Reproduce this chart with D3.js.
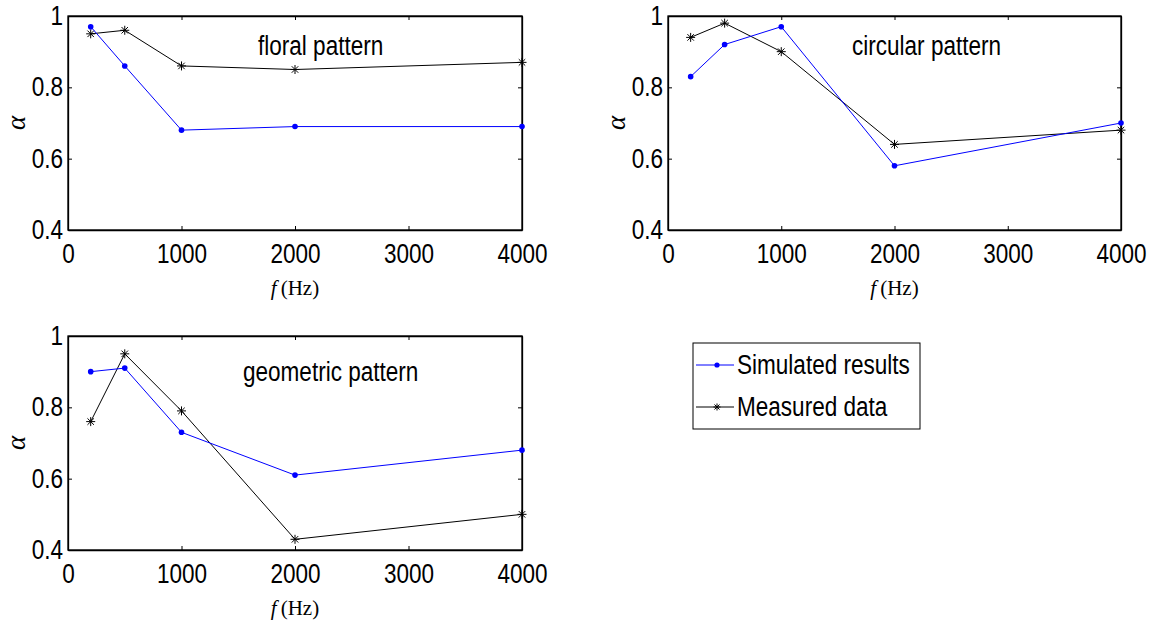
<!DOCTYPE html>
<html>
<head>
<meta charset="utf-8">
<script src="https://cdn.jsdelivr.net/npm/d3@7"></script>
<style>
  body { margin: 0; background: #fff; }
  svg text { fill: #000; }
  .tick text, .title, .legend text { font-family: "Liberation Sans", Arial, sans-serif; font-size: 27px; }
  .xlab, .ylab { font-family: "Liberation Serif", "Times New Roman", serif; }
</style>
</head>
<body>
<div class="canvas"></div>
<script>
// data
const freqs = [200, 500, 1000, 2000, 4000];

const floralSim = [0.97, 0.86, 0.68, 0.69, 0.69];
const floralMeas = [0.95, 0.96, 0.86, 0.85, 0.87];

const circularSim = [0.83, 0.92, 0.97, 0.58, 0.70];
const circularMeas = [0.94, 0.98, 0.90, 0.64, 0.68];

const geometricSim = [0.90, 0.91, 0.73, 0.61, 0.68];
const geometricMeas = [0.76, 0.95, 0.79, 0.43, 0.50];

const xTicks = [0, 1000, 2000, 3000, 4000];
const yTicks = [0.4, 0.6, 0.8, 1];

const seriesNames = ["Simulated results", "Measured data"];

// horizontal squeeze so the sans text looks like the narrow font of the original
const squeeze = 0.835;

const svg = d3
  .select(".canvas")
  .append("svg")
  .attr("width", 1151)
  .attr("height", 621);

const panels = [
  { title: "floral pattern", sim: floralSim, meas: floralMeas, left: 68, top: 16, w: 454, titleX: 190, titleY: 39 },
  { title: "circular pattern", sim: circularSim, meas: circularMeas, left: 668, top: 16, w: 453, titleX: 184, titleY: 39 },
  { title: "geometric pattern", sim: geometricSim, meas: geometricMeas, left: 68, top: 336, w: 454, titleX: 175, titleY: 45 },
];
const plotH = 214;

// asterisk marker path (MATLAB '*')
const star = (r) => {
  const d = r * 0.72;
  return `M${-r},0L${r},0M0,${-r}L0,${r}M${-d},${-d}L${d},${d}M${-d},${d}L${d},${-d}`;
};

panels.forEach((p) => {
  const g = svg.append("g").attr("transform", `translate(${p.left},${p.top})`);

  const x = d3.scaleLinear().domain([0, 4000]).range([0, p.w]);
  const y = d3.scaleLinear().domain([0.4, 1]).range([plotH, 0]);

  // axes with inward ticks on all four sides
  const fmt = (d) => String(d);
  const xAxisGroup = g.append("g")
    .attr("transform", `translate(0,${plotH})`)
    .call(d3.axisBottom(x).tickValues(xTicks).tickSizeInner(-4).tickSizeOuter(0).tickPadding(14).tickFormat(fmt));
  const yAxisGroup = g.append("g")
    .call(d3.axisLeft(y).tickValues(yTicks).tickSizeInner(-4).tickSizeOuter(0).tickPadding(6).tickFormat(fmt));
  g.append("g")
    .call(d3.axisTop(x).tickValues(xTicks).tickSizeInner(-4).tickSizeOuter(0).tickFormat(""));
  g.append("g")
    .attr("transform", `translate(${p.w},0)`)
    .call(d3.axisRight(y).tickValues(yTicks).tickSizeInner(-4).tickSizeOuter(0).tickFormat(""));

  g.selectAll(".domain").attr("stroke", "#000").attr("stroke-width", 1.3);
  g.selectAll(".tick line").attr("stroke", "#000");
  xAxisGroup.selectAll("text").attr("fill", "#000").attr("transform", `scale(${squeeze},1)`);
  yAxisGroup.selectAll("text").attr("fill", "#000").attr("transform", `scale(${squeeze},1)`);

  g.append("rect")
    .attr("width", p.w)
    .attr("height", plotH)
    .attr("fill", "none")
    .attr("stroke", "#000")
    .attr("stroke-width", 1.3);

  const line = d3
    .line()
    .x((d, i) => x(freqs[i]))
    .y((d) => y(d));

  // measured (black, asterisks)
  g.append("path")
    .datum(p.meas)
    .attr("fill", "none")
    .attr("stroke", "#000")
    .attr("stroke-width", 1)
    .attr("d", line);
  g.selectAll(".meas")
    .data(p.meas)
    .enter()
    .append("path")
    .attr("class", "meas")
    .attr("transform", (d, i) => `translate(${x(freqs[i])},${y(d)})`)
    .attr("d", star(4.5))
    .attr("stroke", "#000")
    .attr("stroke-width", 1)
    .attr("fill", "none");

  // simulated (blue, dots)
  g.append("path")
    .datum(p.sim)
    .attr("fill", "none")
    .attr("stroke", "#0000ff")
    .attr("stroke-width", 1)
    .attr("d", line);
  g.selectAll(".sim")
    .data(p.sim)
    .enter()
    .append("circle")
    .attr("class", "sim")
    .attr("cx", (d, i) => x(freqs[i]))
    .attr("cy", (d) => y(d))
    .attr("r", 2.8)
    .attr("fill", "#0000ff");

  g.append("text")
    .attr("class", "title")
    .attr("transform", `translate(${p.titleX},${p.titleY}) scale(${squeeze},1)`)
    .text(p.title);

  // x label: f (Hz)
  const xl = g.append("text")
    .attr("class", "xlab")
    .attr("x", p.w / 2)
    .attr("y", plotH + 65)
    .attr("text-anchor", "middle")
    .attr("font-size", 21);
  xl.append("tspan").attr("font-style", "italic").text("f");
  xl.append("tspan").attr("dx", 4).text("(Hz)");

  // y label: alpha
  g.append("text")
    .attr("class", "ylab")
    .attr("transform", `translate(-43.5,${plotH / 2}) rotate(-90)`)
    .attr("text-anchor", "middle")
    .attr("font-size", 27)
    .attr("font-style", "italic")
    .text("α");
});

// legend
const legend = svg.append("g").attr("class", "legend").attr("transform", "translate(693,343)");
legend.append("rect")
  .attr("width", 227)
  .attr("height", 86)
  .attr("fill", "#fff")
  .attr("stroke", "#000")
  .attr("stroke-width", 1);

const rowY = [22, 64];
const colors = ["#0000ff", "#000"];
seriesNames.forEach((name, i) => {
  const row = legend.append("g").attr("transform", `translate(0,${rowY[i]})`);
  row.append("line")
    .attr("x1", 3).attr("x2", 41)
    .attr("stroke", colors[i]).attr("stroke-width", 1);
  if (i === 0) {
    row.append("circle").attr("cx", 24).attr("r", 2.6).attr("fill", colors[i]);
  } else {
    row.append("path").attr("transform", "translate(24,0)").attr("d", star(3.5)).attr("stroke", "#000").attr("fill", "none");
  }
  row.append("text")
    .attr("transform", `translate(44,0) scale(${squeeze},1)`)
    .attr("dy", "0.35em")
    .text(name);
});
</script>
</body>
</html>
